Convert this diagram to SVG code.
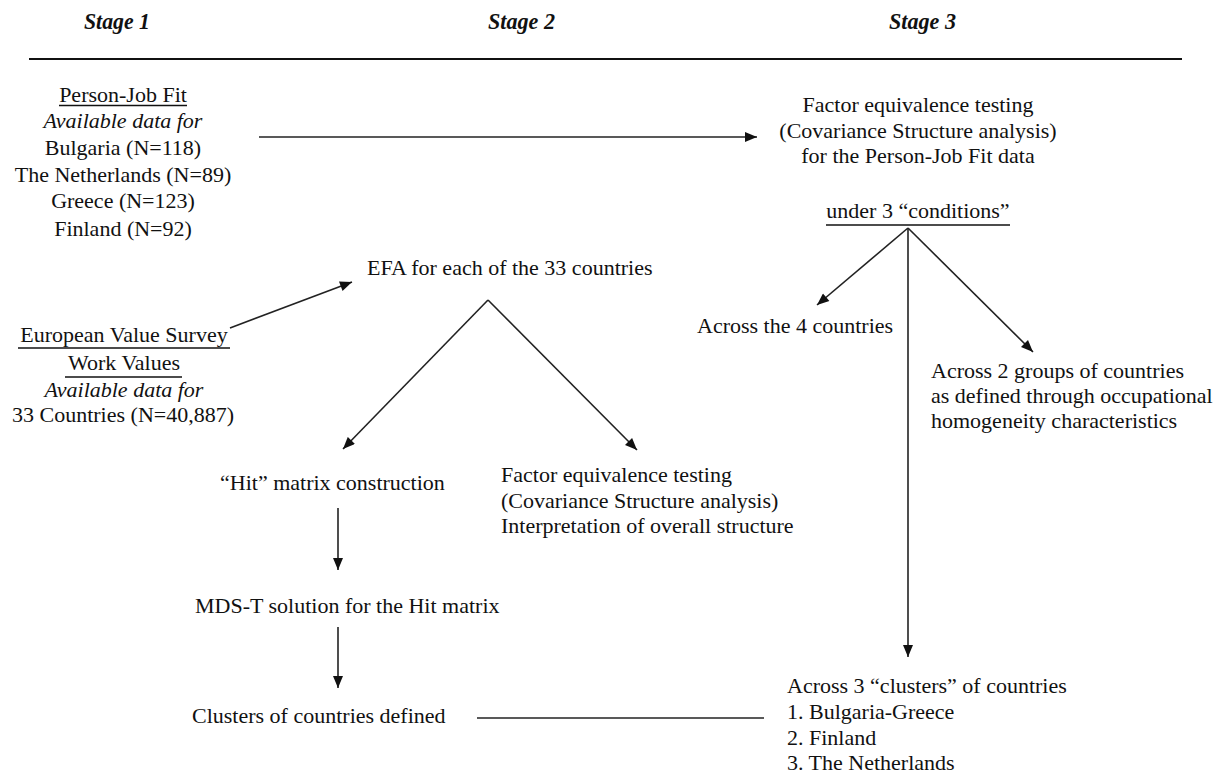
<svg xmlns="http://www.w3.org/2000/svg" width="1225" height="775" viewBox="0 0 1225 775" font-family="'Liberation Serif', 'Times New Roman', Times, serif">
<defs>
<style>
text{font-family:'Liberation Serif','Times New Roman',Times,serif;font-size:22px;fill:#111;}
.hd{font-weight:bold;font-style:italic;font-size:24px;}
.it{font-style:italic;}
.c{text-anchor:middle;}
.ul{stroke:#111;stroke-width:1.3;}
.cn{stroke:#222;stroke-width:1.6;fill:none;}
</style>
<marker id="ah" viewBox="0 0 12 10" refX="12" refY="5" markerWidth="13" markerHeight="10" markerUnits="userSpaceOnUse" orient="auto">
<path d="M0,0 L12,5 L0,10 z" fill="#111"/>
</marker>
</defs>
<rect width="1225" height="775" fill="#fff"/>
<g id="header">
<text class="hd" x="84" y="29" textLength="66" lengthAdjust="spacingAndGlyphs">Stage 1</text>
<text class="hd" x="488" y="29" textLength="67" lengthAdjust="spacingAndGlyphs">Stage 2</text>
<text class="hd" x="889" y="29" textLength="67" lengthAdjust="spacingAndGlyphs">Stage 3</text>
<line x1="29" y1="59" x2="1182" y2="59" stroke="#111" stroke-width="2"/>
</g>
<g id="person-job">
<text class="c" x="123" y="102">Person-Job Fit</text>
<line class="ul" x1="59" y1="105.5" x2="187" y2="105.5"/>
<text class="c it" x="123" y="128">Available data for</text>
<text class="c" x="123" y="155">Bulgaria (N=118)</text>
<text class="c" x="123" y="182">The Netherlands (N=89)</text>
<text class="c" x="123" y="208">Greece (N=123)</text>
<text class="c" x="123" y="236">Finland (N=92)</text>
</g>
<g id="evs">
<text class="c" x="124" y="342">European Value Survey</text>
<line class="ul" x1="18" y1="348" x2="230" y2="348"/>
<text class="c" x="124" y="370">Work Values</text>
<line class="ul" x1="65" y1="377" x2="182" y2="377"/>
<text class="c it" x="124" y="397">Available data for</text>
<text class="c" x="123" y="422">33 Countries (N=40,887)</text>
</g>
<g id="factor3">
<text class="c" x="918" y="112">Factor equivalence testing</text>
<text class="c" x="918" y="138">(Covariance Structure analysis)</text>
<text class="c" x="918" y="163">for the Person-Job Fit data</text>
</g>
<g id="conditions">
<text class="c" x="918" y="218">under 3 “conditions”</text>
<line class="ul" x1="826" y1="225" x2="1010" y2="225"/>
</g>
<g id="efa">
<text x="367" y="275">EFA for each of the 33 countries</text>
</g>
<g id="across4">
<text x="697" y="333">Across the 4 countries</text>
</g>
<g id="across2">
<text x="931" y="378">Across 2 groups of countries</text>
<text x="931" y="403">as defined through occupational</text>
<text x="931" y="428">homogeneity characteristics</text>
</g>
<g id="hit">
<text x="220" y="490">“Hit” matrix construction</text>
</g>
<g id="factor2">
<text x="501" y="482">Factor equivalence testing</text>
<text x="501" y="508">(Covariance Structure analysis)</text>
<text x="501" y="533">Interpretation of overall structure</text>
</g>
<g id="mds">
<text x="195" y="613">MDS-T solution for the Hit matrix</text>
</g>
<g id="clusters">
<text x="192" y="723">Clusters of countries defined</text>
</g>
<g id="across3">
<text x="787" y="693">Across 3 “clusters” of countries</text>
<text x="787" y="719">1. Bulgaria-Greece</text>
<text x="787" y="745">2. Finland</text>
<text x="787" y="770">3. The Netherlands</text>
</g>
<g id="connectors">
<line class="cn" x1="259" y1="137" x2="757" y2="137" marker-end="url(#ah)"/>
<line class="cn" x1="230" y1="328" x2="352" y2="282" marker-end="url(#ah)"/>
<line class="cn" x1="488" y1="300" x2="343" y2="449" marker-end="url(#ah)"/>
<line class="cn" x1="488" y1="300" x2="637" y2="450" marker-end="url(#ah)"/>
<line class="cn" x1="338" y1="508" x2="338" y2="570" marker-end="url(#ah)"/>
<line class="cn" x1="338" y1="627" x2="338" y2="688" marker-end="url(#ah)"/>
<line class="cn" x1="477" y1="718" x2="764" y2="718"/>
<line class="cn" x1="908" y1="228" x2="817" y2="305" marker-end="url(#ah)"/>
<line class="cn" x1="908" y1="228" x2="1033" y2="352" marker-end="url(#ah)"/>
<line class="cn" x1="908" y1="228" x2="908" y2="657" marker-end="url(#ah)"/>
</g>
</svg>
